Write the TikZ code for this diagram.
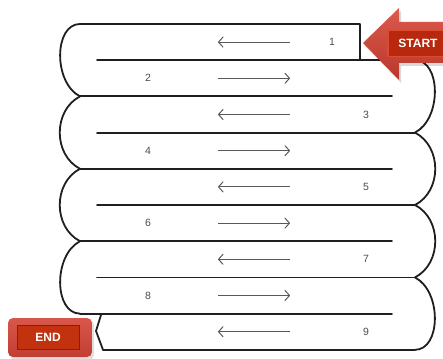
\documentclass[tikz,border=0pt]{standalone}
\usepackage{fontspec}
\setmainfont{Liberation Sans}
\usetikzlibrary{arrows.meta}
\definecolor{arrowlight}{HTML}{DA5A4C}
\definecolor{arrowdark}{HTML}{B9382C}
\definecolor{tagfill}{HTML}{B8280F}
\definecolor{tagedge}{HTML}{DE4A30}
\definecolor{endlight}{HTML}{D9574A}
\definecolor{enddark}{HTML}{C23E32}
\definecolor{endinner}{HTML}{C2320F}
\definecolor{endedge}{HTML}{8E1C08}
\begin{document}
\begin{tikzpicture}[x=1pt,y=-1pt,
  wall/.style={line width=1.8pt, black!88, line cap=round, line join=round},
  lanearrow/.style={line width=1pt, black!65, -{Straight Barb[length=4.5pt,width=10pt,line join=round,line cap=round]}},
  num/.style={font=\fontsize{10.5}{12}\selectfont, text=black!70, inner sep=0pt},
  tagtext/.style={font=\bfseries\fontsize{12}{14}\selectfont, text=white}]
\useasboundingbox (0,0) rectangle (443,358);

% ---- walls: horizontal lines
\draw[wall] (80,24) -- (360,24) -- (360,60.2);
\draw[wall] (97,60.2) -- (415,60.2);
\draw[wall] (80,96.4) -- (392,96.4);
\draw[wall] (97,132.6) -- (415,132.6);
\draw[wall] (80,168.8) -- (392,168.8);
\draw[wall] (97,205) -- (415,205);
\draw[wall] (80,241.2) -- (392,241.2);
\draw[wall] (97,277.4) -- (415,277.4);
\draw[wall] (80,313.6) -- (392,313.6);
\draw[wall] (103,349.8) -- (415,349.8);
% END notch
\draw[wall] (101,315) -- (96,331) -- (103,349.8);

% ---- left U-turns
\draw[wall] (80,24) .. controls (54,24) and (53,82.4) .. (80,96.4);
\draw[wall] (80,96.4) .. controls (53,110.4) and (53,154.8) .. (80,168.8);
\draw[wall] (80,168.8) .. controls (53,182.8) and (53,227.2) .. (80,241.2);
\draw[wall] (80,241.2) .. controls (53,255.2) and (54,313.6) .. (80,313.6);

% ---- right U-turns
\draw[wall] (415,60.2) .. controls (441,60.2) and (442,118.6) .. (415,132.6);
\draw[wall] (415,132.6) .. controls (442,146.6) and (442,191) .. (415,205);
\draw[wall] (415,205) .. controls (442,219) and (442,263.4) .. (415,277.4);
\draw[wall] (415,277.4) .. controls (442,291.4) and (441,349.8) .. (415,349.8);

% ---- direction arrows
\foreach \c in {42.1,114.5,186.9,259.3,331.7}
  \draw[lanearrow] (290,\c) -- (218,\c);
\foreach \c in {78.3,150.7,223.1,295.5}
  \draw[lanearrow] (218,\c) -- (290,\c);

% ---- lane numbers
\node[num] (n1) at (332,42.1) {1};
\node[num] (n2) at (148,78.3) {2};
\node[num] (n3) at (366,114.5) {3};
\node[num] (n4) at (148,150.7) {4};
\node[num] (n5) at (366,186.9) {5};
\node[num] (n6) at (148,223.1) {6};
\node[num] (n7) at (366,259.3) {7};
\node[num] (n8) at (148,295.5) {8};
\node[num] (n9) at (366,331.7) {9};

% ---- START arrow
\fill[black, opacity=0.15] (365,46) -- (401,11) -- (401,25) -- (450,25) -- (450,66) -- (401,66) -- (401,83) -- cycle;
\shade[top color=arrowlight, bottom color=arrowdark]
  (363,43) -- (399,8) -- (399,22) -- (450,22) -- (450,63) -- (399,63) -- (399,80) -- cycle;
\node[draw=tagedge, line width=1.5pt, fill=tagfill, minimum width=60pt, minimum height=26pt,
      inner sep=0pt, tagtext] (start) at (418,43.5) {START};

% ---- END tag
\fill[black, opacity=0.12, rounded corners=5pt] (10,320) rectangle (94,360);
\shade[rounded corners=5pt, top color=endlight, bottom color=enddark] (8,318) rectangle (92,357);
\node[draw=endedge, line width=1pt, fill=endinner, minimum width=62pt, minimum height=24pt,
      inner sep=0pt, tagtext] (endtag) at (48,337) {END};
\end{tikzpicture}
\end{document}
